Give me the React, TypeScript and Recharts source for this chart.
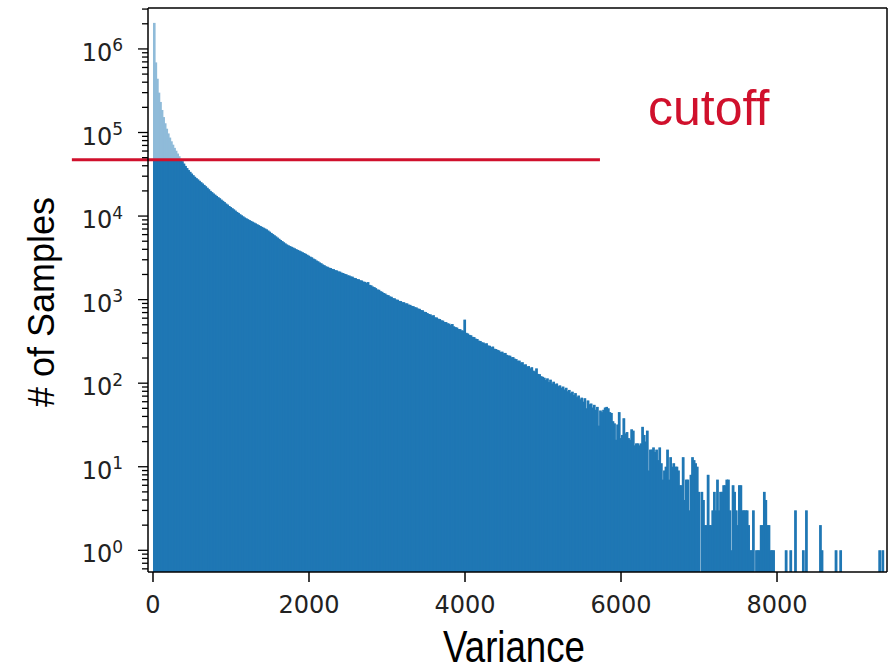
import React from "react"
import {
  ComposedChart,
  Bar,
  XAxis,
  YAxis,
  ReferenceLine,
} from "recharts"

// histogram of per-sample variance, bins of 20 starting at 0
const BIN_WIDTH = 20

// bins 0-99
const headCounts = [
  2050000, 690000, 440000, 300000, 232000, 186000, 153000, 129000, 111000, 97500,
  87000, 78500, 71500, 65500, 60500, 56000, 52000, 48500, 45300, 42400,
  39800, 37500, 35500, 33800, 32200, 30800, 29500, 28400, 27400, 26400,
  25400, 24500, 23600, 22700, 21800, 20900, 20000, 19300, 18600, 18000,
  17400, 16800, 16300, 15700, 15200, 14700, 14100, 13700, 13200, 12800,
  12400, 12000, 11600, 11200, 10900, 10500, 10200, 9900, 9600, 9380,
  9160, 8950, 8740, 8540, 8340, 8150, 7960, 7780, 7600, 7420,
  7250, 7080, 6920, 6700, 6490, 6280, 6080, 5890, 5700, 5520,
  5340, 5170, 5010, 4850, 4700, 4560, 4460, 4370, 4280, 4190,
  4100, 4010, 3930, 3850, 3770, 3690, 3610, 3530, 3440, 3350,
]

// bins 100-199
const midCounts = [
  3260, 3200, 3090, 3030, 2930, 2870, 2780, 2720, 2630, 2580,
  2500, 2470, 2410, 2390, 2330, 2310, 2250, 2230, 2170, 2160,
  2100, 2080, 2030, 2010, 1950, 1940, 1890, 1880, 1820, 1810,
  1760, 1750, 1700, 1690, 1640, 1630, 1580, 1620, 1500, 1480,
  1430, 1410, 1370, 1320, 1310, 1260, 1240, 1200, 1180, 1140,
  1130, 1090, 1080, 1040, 1035, 1000, 995, 965, 960, 930,
  930, 900, 900, 870, 865, 840, 835, 810, 805, 780,
  775, 750, 745, 715, 710, 690, 672, 665, 640, 650,
  612, 610, 590, 585, 565, 560, 540, 538, 520, 515,
  495, 510, 478, 468, 462, 445, 443, 428, 425, 575,
]

// bins 200-299
const lowCounts = [
  400, 392, 378, 374, 358, 356, 340, 338, 322, 320,
  308, 306, 296, 300, 282, 280, 270, 274, 258, 256,
  250, 246, 236, 238, 228, 230, 218, 214, 213, 204,
  205, 196, 194, 185, 186, 176, 178, 166, 168, 158,
  160, 150, 155, 141, 138, 150, 129, 128, 121, 119,
  116, 109, 114, 103, 110, 99, 104, 97, 99, 92,
  94, 88, 91, 84, 88, 80, 83, 76, 79, 72,
  76, 68, 71, 64, 67, 60, 66, 50, 62, 56,
  57, 51, 55, 48, 52, 31, 47, 45, 48, 51,
  52, 50, 45, 44, 35, 33, 21, 32, 45, 22,
]

// bins 300-467, null = empty bin
const tailCounts = [
  24, 38, 25, 26, 22, 21, 28, 27, 18, 19,
  19, 18, 19, 30, 24, 20, 27, 9, 16, 16,
  17, 15, 16, 12, 17, 11, 7, 9, 10, 16,
  7, 13, 10, 11, 10, 10, 9, 6, 6, 13,
  4, 7, 7, 3, 8, 13, 12, 11, 10, 5,
  null, 5, 4, 2, 2, 8, 2, 2, 3, 5,
  3, 7, 3, 5, 5, 6, 6, 7, 7, 3,
  1, 6, 5, 3, 2, 6, 6, 3, 3, 3,
  3, 2, 1, 1, 3, null, 1, 1, 1, 2,
  2, 5, 4, 2, 2, 1, 1, 1, null, null,
  null, null, null, null, null, 1, null, null, 1, null,
  null, 3, null, null, null, null, 1, null, 3, null,
  null, null, null, null, null, null, null, 2, 1, null,
  null, null, null, null, null, null, null, 1, null, null,
  1, null, null, null, null, null, null, null, null, null,
  null, null, null, null, null, null, null, null, null, null,
  null, null, null, null, null, 1, null, 1,
]

const counts = [...headCounts, ...midCounts, ...lowCounts, ...tailCounts]

const CUTOFF = 47100
const X_TICKS = [0, 2000, 4000, 6000, 8000]
const Y_MAJOR = [1, 10, 100, 1000, 10000, 100000, 1000000]

const X_DOMAIN = [-64, 9410]
const Y_DOMAIN = [0.55, 3.09e6]

const DARK = "#1f77b4"
const LIGHT = "#8fbbd9"
const RED = "#d0102c"

const data = counts.map((c, i) => ({ x: i * BIN_WIDTH + BIN_WIDTH / 2, count: c }))

const yTicks: number[] = []
Y_MAJOR.forEach((m) => {
  for (let k = 1; k <= 9; k++) yTicks.push(m * k)
})
const allYTicks = [0.6, 0.7, 0.8, 0.9, ...yTicks].filter((v) => v <= Y_DOMAIN[1])

const darkValue = (d: { count: number | null }) =>
  d.count == null ? null : Math.min(d.count, CUTOFF)

const HistRect = (props: any) => {
  const { x, y, width, height, fill } = props
  if (!isFinite(x) || !isFinite(y) || !isFinite(height) || height <= 0) return <g />
  return <rect x={x} y={y} width={width + 0.6} height={height} fill={fill} />
}

const XTick = (props: any) => {
  const { x, y, payload } = props
  return (
    <text x={x} y={y + 31} textAnchor="middle" fontSize={24} fill="#222" fontFamily="DejaVu Sans">
      {payload.value}
    </text>
  )
}

const YTick = (props: any) => {
  const { x, y, payload } = props
  const v = payload.value
  const exp = Math.log10(v)
  const major = Math.abs(exp - Math.round(exp)) < 1e-9
  return (
    <g>
      <line x1={x - (major ? 10 : 6)} x2={x} y1={y} y2={y} stroke="#000" strokeWidth={1.3} />
      {major && (
        <text x={x - 25} y={y + 12} textAnchor="end" fontSize={24} fill="#222" fontFamily="DejaVu Sans">
          <tspan>10</tspan>
          <tspan dy={-9.5} fontSize={17}>{Math.round(exp)}</tspan>
        </text>
      )}
    </g>
  )
}

const frame = { stroke: "#000", strokeWidth: 1.5 }

export default function App() {
  return (
    <div style={{ position: "absolute", left: 0, top: 0, width: 895, height: 671, background: "#fff" }}>
      <ComposedChart
        width={895}
        height={671}
        data={data}
        margin={{ top: 7, right: 7, bottom: 59, left: 138 }}
        barCategoryGap={0}
        barGap={0}
      >
        <Bar
          xAxisId="bottom"
          yAxisId="left"
          dataKey="count"
          fill={LIGHT}
          shape={<HistRect />}
          isAnimationActive={false}
        />
        <Bar
          xAxisId="top"
          yAxisId="left"
          dataKey={darkValue}
          fill={DARK}
          shape={<HistRect />}
          isAnimationActive={false}
        />
        <XAxis
          xAxisId="bottom"
          dataKey="x"
          type="number"
          domain={X_DOMAIN}
          ticks={X_TICKS}
          allowDataOverflow
          height={40}
          tickSize={10}
          tickMargin={0}
          axisLine={frame}
          tickLine={frame}
          tick={<XTick />}
          interval={0}
        />
        <XAxis
          xAxisId="top"
          orientation="top"
          dataKey="x"
          type="number"
          domain={X_DOMAIN}
          allowDataOverflow
          height={1}
          tick={false}
          tickLine={false}
          axisLine={frame}
        />
        <YAxis
          yAxisId="left"
          type="number"
          scale="log"
          domain={Y_DOMAIN}
          ticks={allYTicks}
          allowDataOverflow
          width={10}
          tickSize={0}
          tickMargin={0}
          tickLine={false}
          axisLine={frame}
          tick={<YTick />}
          interval={0}
        />
        <YAxis
          yAxisId="right"
          orientation="right"
          type="number"
          scale="log"
          domain={Y_DOMAIN}
          allowDataOverflow
          width={1}
          tick={false}
          tickLine={false}
          axisLine={frame}
        />
        <ReferenceLine
          xAxisId="bottom"
          yAxisId="left"
          segment={[{ x: -1040, y: CUTOFF }, { x: 5730, y: CUTOFF }]}
          stroke={RED}
          strokeWidth={3}
          ifOverflow="visible"
        />
      </ComposedChart>
      <svg width={895} height={671} style={{ position: "absolute", left: 0, top: 0, pointerEvents: "none" }}>
        <text x={648} y={125} fontSize={50} fill={RED} fontFamily="Liberation Sans, Arial, sans-serif">
          cutoff
        </text>
        <text
          x={514}
          y={662}
          textAnchor="middle"
          fontSize={44}
          fill="#000"
          fontFamily="Liberation Sans, Arial, sans-serif"
          textLength={142}
          lengthAdjust="spacingAndGlyphs"
        >
          Variance
        </text>
        <text
          transform="translate(54 302) rotate(-90)"
          textAnchor="middle"
          fontSize={36}
          fill="#000"
          fontFamily="Liberation Sans, Arial, sans-serif"
        >
          # of Samples
        </text>
      </svg>
    </div>
  )
}
